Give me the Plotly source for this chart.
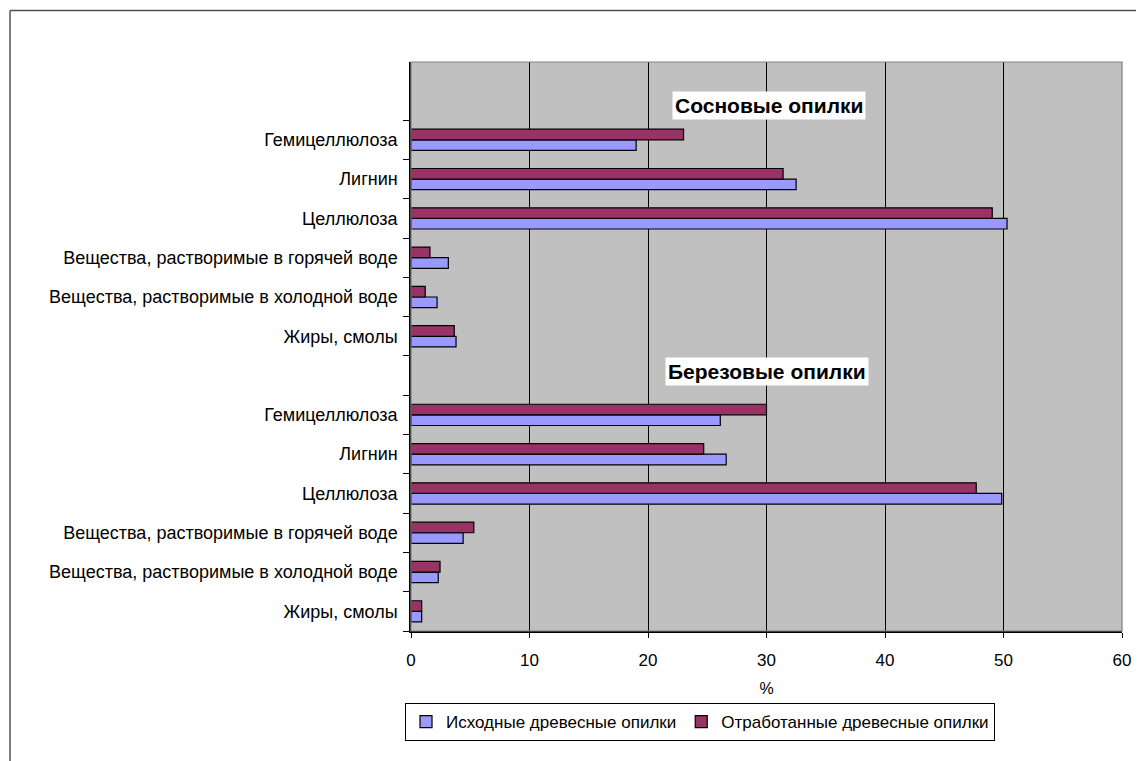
import plotly.graph_objects as go

# ---- data ----
components = ["Гемицеллюлоза", "Лигнин", "Целлюлоза",
              "Вещества, растворимые в горячей воде",
              "Вещества, растворимые в холодной воде",
              "Жиры, смолы"]
group_names = ["Сосновые опилки", "Березовые опилки"]
series_names = ["Исходные древесные опилки", "Отработанные древесные опилки"]

pine_initial = [19.0, 32.5, 50.3, 3.15, 2.2, 3.8]
pine_spent = [23.0, 31.4, 49.05, 1.6, 1.2, 3.65]
birch_initial = [26.1, 26.6, 49.85, 4.4, 2.3, 0.9]
birch_spent = [30.0, 24.7, 47.7, 5.3, 2.45, 0.9]

x_ticks = [0, 10, 20, 30, 40, 50, 60]
x_title = "%"

# ---- category axis (bottom -> top) ----
GAP = "gap"
def ids(group):
    return [group + "|" + c for c in components]

pine_ids = ids(group_names[0])
birch_ids = ids(group_names[1])
cat_order = list(reversed(birch_ids)) + [GAP] + list(reversed(pine_ids))
tick_text = [c.split("|")[1] if "|" in c else "" for c in cat_order]

y_all = pine_ids + birch_ids
initial_all = pine_initial + birch_initial
spent_all = pine_spent + birch_spent

FONT = "Liberation Sans, Arial, sans-serif"

fig = go.Figure()
fig.add_trace(go.Bar(
    y=y_all, x=initial_all, orientation="h", name=series_names[0],
    marker=dict(color="#9999FF", line=dict(color="black", width=1.2)),
))
fig.add_trace(go.Bar(
    y=y_all, x=spent_all, orientation="h", name=series_names[1],
    marker=dict(color="#993366", line=dict(color="black", width=1.2)),
))

OFF = 8  # page body margin
W, H = 1136, 753
L, T = 411 - OFF, 62 - OFF
R = W - (1122 - OFF)
B = H - (631 - OFF)
pw, ph = W - L - R, H - T - B

def px_x(px):
    return (px - OFF - L) / pw

def px_y(py):
    return (H - B - (py - OFF)) / ph

top_extra = 1.48  # empty room above the top category (in category slots)
y_top = len(cat_order) - 0.5 + top_extra

shapes = [
    dict(type="rect", xref="paper", yref="paper", x0=0, x1=1, y0=0, y1=1,
         line=dict(color="#808080", width=1.2), layer="above"),
    dict(type="line", xref="paper", yref="paper",
         x0=px_x(10), x1=px_x(1170), y0=px_y(10.5), y1=px_y(10.5),
         line=dict(color="#505050", width=1.5)),
    dict(type="line", xref="paper", yref="paper",
         x0=px_x(10), x1=px_x(10), y0=px_y(10.5), y1=px_y(790),
         line=dict(color="#505050", width=1.5)),
]

annotations = [
    dict(text="<b>" + group_names[0] + "</b>", x=30.2, xref="x",
         y=len(cat_order) - 0.5 + 0.37, yref="y", showarrow=False,
         font=dict(family=FONT, size=21, color="black"),
         bgcolor="white", borderpad=2),
    dict(text="<b>" + group_names[1] + "</b>", x=30.0, xref="x",
         y=GAP, yref="y", yshift=4, showarrow=False,
         font=dict(family=FONT, size=21, color="black"),
         bgcolor="white", borderpad=2),
]

fig.update_layout(
    width=W, height=H,
    margin=dict(l=L, r=R, t=T, b=B),
    paper_bgcolor="white", plot_bgcolor="#C0C0C0",
    barmode="group", bargap=0.46, bargroupgap=0,
    font=dict(family=FONT, size=17, color="black"),
    shapes=shapes, annotations=annotations,
    legend=dict(orientation="h", x=px_x(405), xanchor="left",
                y=px_y(703), yanchor="top",
                bgcolor="white", bordercolor="black", borderwidth=1,
                font=dict(family=FONT, size=17, color="black"),
                itemwidth=30, tracegroupgap=0),
    showlegend=True,
)

fig.update_xaxes(
    range=[0, 60], tickvals=x_ticks, ticktext=[str(v) for v in x_ticks],
    showgrid=True, gridcolor="black", gridwidth=1.4,
    zeroline=False, showline=True, linecolor="black", linewidth=1.5,
    ticks="outside", ticklen=5, tickcolor="black",
    tickfont=dict(family=FONT, size=17),
    ticklabelstandoff=8,
    title=dict(text=x_title, font=dict(family=FONT, size=16), standoff=14),
    fixedrange=True,
)
fig.update_yaxes(
    type="category", categoryorder="array", categoryarray=cat_order,
    tickvals=cat_order, ticktext=tick_text,
    range=[-0.5, y_top],
    tickson="boundaries", ticks="outside", ticklen=6, tickcolor="black",
    showgrid=False, zeroline=False,
    showline=True, linecolor="black", linewidth=1.5,
    tickfont=dict(family=FONT, size=18),
    ticklabelstandoff=8,
    fixedrange=True,
)

fig.write_html("out.html")
